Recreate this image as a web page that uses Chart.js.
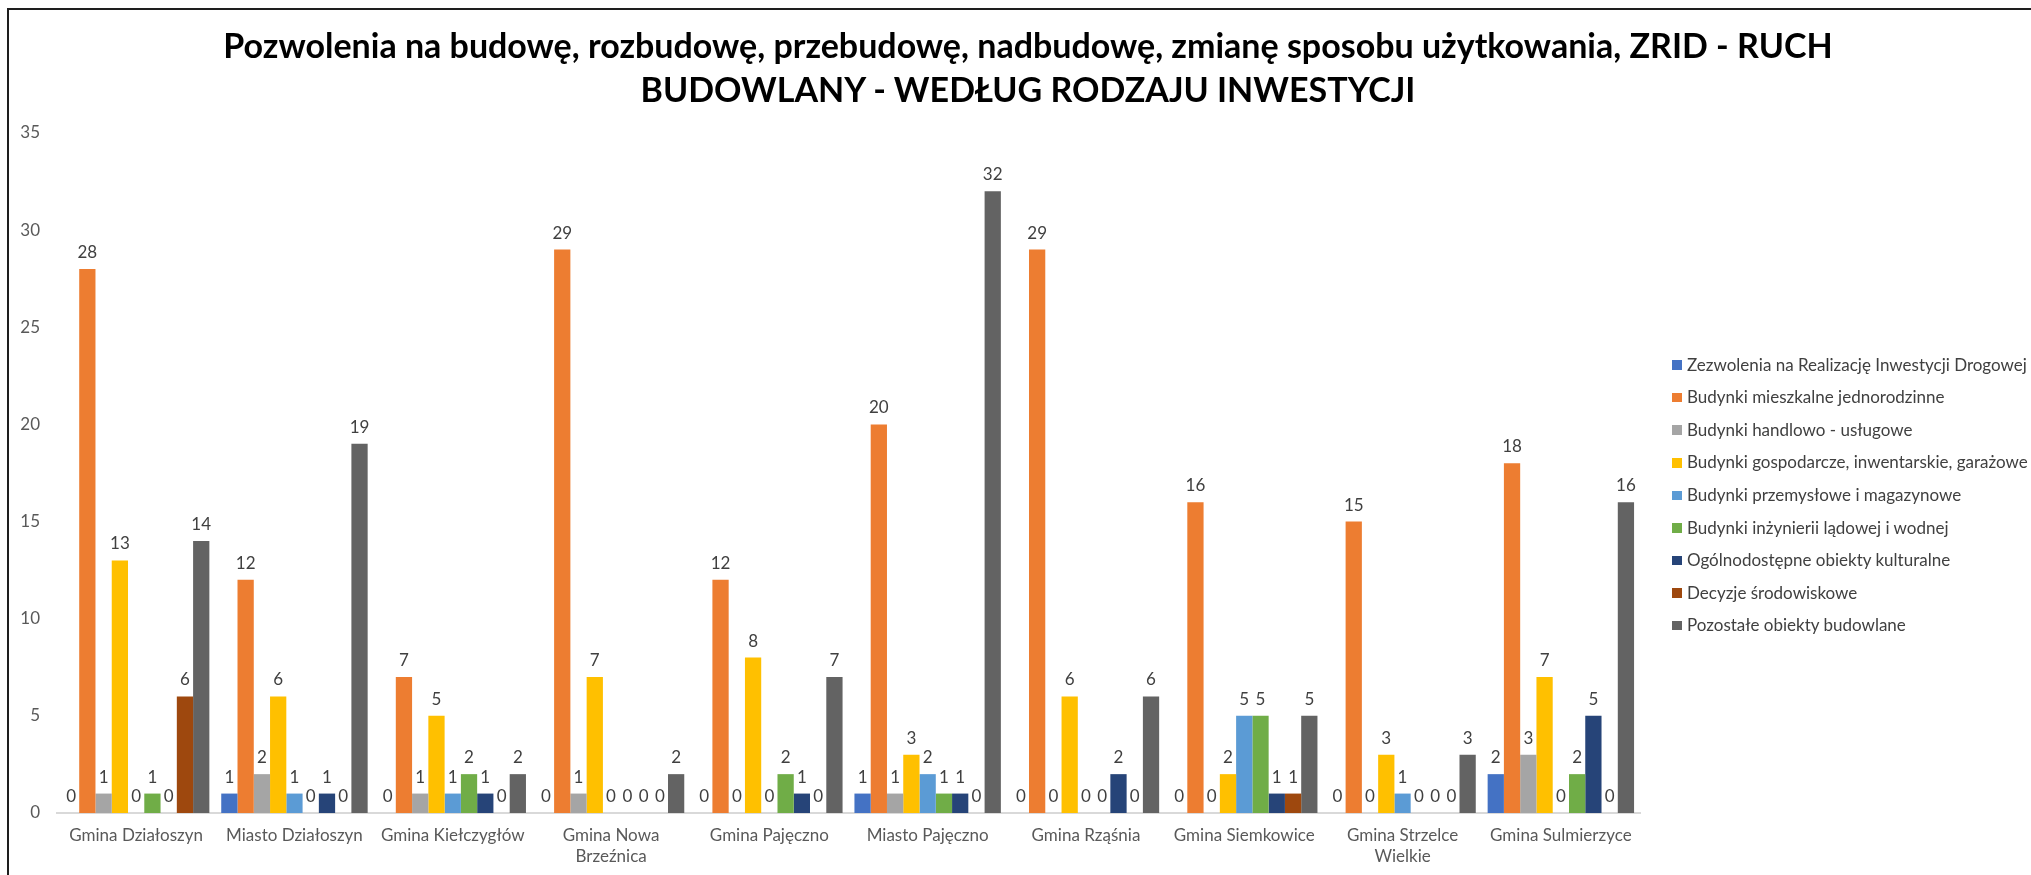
<!DOCTYPE html>
<html lang="pl">
<head>
<meta charset="utf-8">
<title>Ruch budowlany - według rodzaju inwestycji</title>
<script src="https://cdn.jsdelivr.net/npm/chart.js@4.4.1/dist/chart.umd.min.js"></script>
<style>
  html, body { margin: 0; padding: 0; background: #fff; width: 2031px; height: 875px; overflow: hidden; }
  #frame { position: absolute; left: 7px; top: 8px; width: 2040px; height: 900px; border: 2px solid #1e1e1e; }
  #title { position: absolute; left: 0; top: 23.3px; width: 2056px; text-align: center; font-family: Lato, sans-serif; font-weight: bold; font-size: 34px; line-height: 43.5px; color: #000; white-space: nowrap; }
  #legend { position: absolute; left: 1663px; top: 338.7px; font-family: Lato, sans-serif; font-size: 17px; color: #404040; }
  #legend .item { height: 32.6px; line-height: 32.6px; white-space: nowrap; display: flex; align-items: center; }
  #legend .box { width: 9.5px; height: 9.5px; margin-right: 5.5px; flex: none; }
</style>
</head>
<body>
<div id="frame">
  <canvas id="buildChart"></canvas>
  <div id="legend"></div>
</div>
<div id="title">Pozwolenia na budowę, rozbudowę, przebudowę, nadbudowę, zmianę sposobu użytkowania, ZRID - RUCH<br>BUDOWLANY - WEDŁUG RODZAJU INWESTYCJI</div>
<script>
const categories = [
    'Gmina Działoszyn', 'Miasto Działoszyn', 'Gmina Kiełczygłów', ['Gmina Nowa', 'Brzeźnica'],
    'Gmina Pajęczno', 'Miasto Pajęczno', 'Gmina Rząśnia', 'Gmina Siemkowice',
    ['Gmina Strzelce', 'Wielkie'], 'Gmina Sulmierzyce'
];

const seriesNames = [
    'Zezwolenia na Realizację Inwestycji Drogowej',
    'Budynki mieszkalne jednorodzinne',
    'Budynki handlowo - usługowe',
    'Budynki gospodarcze, inwentarskie, garażowe',
    'Budynki przemysłowe i magazynowe',
    'Budynki inżynierii lądowej i wodnej',
    'Ogólnodostępne obiekty kulturalne',
    'Decyzje środowiskowe',
    'Pozostałe obiekty budowlane'
];

const zrid = [0, 1, 0, 0, 0, 1, 0, 0, 0, 2];
const mieszkalne = [28, 12, 7, 29, 12, 20, 29, 16, 15, 18];
const handlowe = [1, 2, 1, 1, 0, 1, 0, 0, 0, 3];
const gospodarcze = [13, 6, 5, 7, 8, 3, 6, 2, 3, 7];
const przemyslowe = [0, 1, 1, 0, 0, 2, 0, 5, 1, 0];
const inzynieryjne = [1, 0, 2, 0, 2, 1, 0, 5, 0, 2];
const kulturalne = [0, 1, 1, 0, 1, 1, 2, 1, 0, 5];
const srodowiskowe = [6, 0, 0, 0, 0, 0, 0, 1, 0, 0];
const pozostale = [14, 19, 2, 2, 7, 32, 6, 5, 3, 16];

const yTicks = [0, 5, 10, 15, 20, 25, 30, 35];

const seriesValues = [zrid, mieszkalne, handlowe, gospodarcze, przemyslowe, inzynieryjne, kulturalne, srodowiskowe, pozostale];
const seriesColors = ['#4472C4', '#ED7D31', '#A5A5A5', '#FFC000', '#5B9BD5', '#70AD47', '#264478', '#9E480E', '#636363'];

Chart.defaults.font.family = 'Lato, sans-serif';
Chart.defaults.color = '#595959';

// etykiety wartości nad słupkami
const valueLabels = {
    id: 'valueLabels',
    afterDatasetsDraw(chart) {
        const ctx = chart.ctx;
        ctx.save();
        ctx.font = '17px Lato, sans-serif';
        ctx.fillStyle = '#404040';
        ctx.textAlign = 'center';
        ctx.textBaseline = 'alphabetic';
        chart.data.datasets.forEach((ds, i) => {
            chart.getDatasetMeta(i).data.forEach((bar, j) => {
                ctx.fillText(ds.data[j], bar.x, bar.y - 11);
            });
        });
        ctx.restore();
    }
};

const ctx = document.getElementById('buildChart').getContext('2d');
const buildChart = new Chart(ctx, {
    type: 'bar',
    data: {
        labels: categories,
        datasets: seriesNames.map((name, i) => ({
            label: name,
            data: seriesValues[i],
            backgroundColor: seriesColors[i],
            borderWidth: 0,
            categoryPercentage: 0.925,
            barPercentage: 1.0
        }))
    },
    options: {
        responsive: true,
        maintainAspectRatio: false,
        animation: false,
        layout: { padding: { left: 0, right: 409, top: 123, bottom: 37 } },
        plugins: {
            legend: { display: false },
            tooltip: { enabled: false },
            title: { display: false }
        },
        scales: {
            x: {
                grid: { display: false, drawTicks: false },
                border: { display: true, color: '#d9d9d9', width: 2 },
                ticks: { font: { size: 17, lineHeight: 1.25 }, padding: 12, maxRotation: 0, autoSkip: false },
                afterFit: (scale) => { scale.height = 60; }
            },
            y: {
                min: 0,
                max: 35,
                grid: { display: false, drawTicks: false },
                border: { display: false },
                afterBuildTicks: (scale) => { scale.ticks = yTicks.map(v => ({ value: v })); },
                ticks: { font: { size: 17 }, padding: 17 },
                afterFit: (scale) => { scale.width = 48; }
            }
        }
    },
    plugins: [valueLabels]
});

// legenda w HTML
const legendBox = document.getElementById('legend');
seriesNames.forEach((name, i) => {
    const row = document.createElement('div');
    row.className = 'item';
    row.innerHTML = `<span class="box" style="background:${seriesColors[i]}"></span><span>${name}</span>`;
    legendBox.appendChild(row);
});
</script>
</body>
</html>
